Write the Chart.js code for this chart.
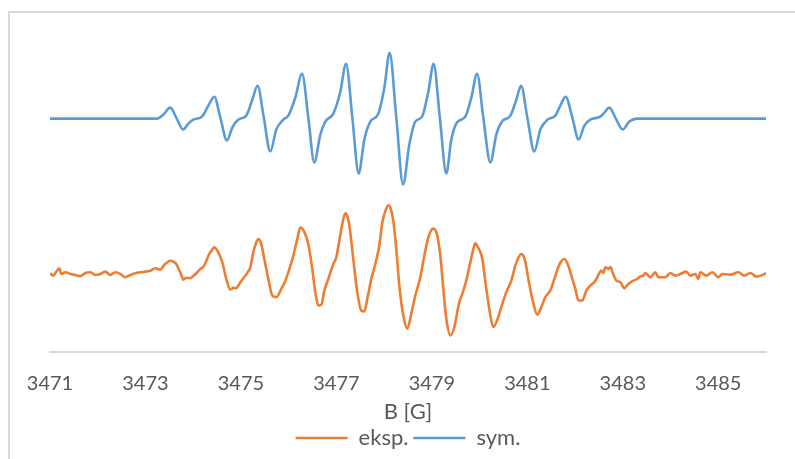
<!DOCTYPE html>
<html><head><meta charset="utf-8">
<script src="https://cdn.jsdelivr.net/npm/chart.js@4.4.0/dist/chart.umd.min.js"></script>
<style>html,body{margin:0;padding:0;background:#fff;}</style>
</head><body>
<canvas id="c" width="795" height="459"></canvas>
<script>
// ---- data ----
const tickValues = [3471, 3473, 3475, 3477, 3479, 3481, 3483, 3485];
const seriesNames = ['eksp.', 'sym.'];

const symB = [
 3471.000, 3473.248, 3473.374, 3473.520, 3473.646, 3473.787, 3473.898, 3474.002, 3474.185,
 3474.317, 3474.442, 3474.568, 3474.708, 3474.819, 3474.945, 3475.113,
 3475.238, 3475.349, 3475.479, 3475.616, 3475.741, 3475.888, 3475.993,
 3476.139, 3476.280, 3476.412, 3476.537, 3476.663, 3476.768, 3476.936,
 3477.082, 3477.202, 3477.334, 3477.466, 3477.585, 3477.711, 3477.878,
 3478.004, 3478.115, 3478.255, 3478.396, 3478.528, 3478.653, 3478.794,
 3478.926, 3479.037, 3479.167, 3479.303, 3479.408, 3479.527, 3479.701,
 3479.827, 3479.946, 3480.078, 3480.225, 3480.350, 3480.470, 3480.644,
 3480.770, 3480.868, 3481.000, 3481.147, 3481.272, 3481.425, 3481.587,
 3481.691, 3481.802, 3481.943, 3482.075, 3482.194, 3482.320, 3482.529,
 3482.613, 3482.718, 3482.854, 3482.997, 3483.137, 3483.298, 3486.000
];
const symI = [
 2.34, 2.34, 2.38, 2.45, 2.35, 2.23, 2.29, 2.33, 2.36,
 2.47, 2.56, 2.35, 2.12, 2.25, 2.33, 2.37,
 2.53, 2.67, 2.35, 2.01, 2.23, 2.33, 2.37,
 2.55, 2.79, 2.35, 1.90, 2.18, 2.31, 2.39,
 2.61, 2.89, 2.35, 1.79, 2.13, 2.31, 2.39,
 2.65, 3.00, 2.35, 1.68, 2.08, 2.31, 2.36,
 2.61, 2.89, 2.35, 1.79, 2.13, 2.30, 2.36,
 2.55, 2.79, 2.35, 1.90, 2.18, 2.31, 2.37,
 2.53, 2.67, 2.35, 2.01, 2.23, 2.33, 2.37,
 2.47, 2.56, 2.35, 2.13, 2.27, 2.33, 2.36,
 2.40, 2.45, 2.34, 2.23, 2.31, 2.34, 2.34
];

const ekspB = [
 3471.000, 3471.069, 3471.132, 3471.195, 3471.237, 3471.321, 3471.425, 3471.530, 3471.635, 3471.740,
 3471.844, 3471.949, 3472.054, 3472.159, 3472.263, 3472.368, 3472.473, 3472.578, 3472.682, 3472.787,
 3472.892, 3472.997, 3473.101, 3473.206, 3473.311, 3473.395, 3473.458, 3473.520, 3473.583, 3473.646,
 3473.688, 3473.751, 3473.793, 3473.856, 3473.939, 3474.002, 3474.086, 3474.149, 3474.212, 3474.275,
 3474.317, 3474.379, 3474.442, 3474.484, 3474.526, 3474.610, 3474.694, 3474.777, 3474.840, 3474.903,
 3474.966, 3475.050, 3475.134, 3475.196, 3475.259, 3475.301, 3475.364, 3475.427, 3475.490, 3475.574,
 3475.657, 3475.741, 3475.846, 3475.930, 3475.993, 3476.056, 3476.097, 3476.181, 3476.244, 3476.328,
 3476.412, 3476.495, 3476.558, 3476.621, 3476.684, 3476.747, 3476.831, 3476.936, 3476.998, 3477.061,
 3477.145, 3477.187, 3477.229, 3477.271, 3477.354, 3477.438, 3477.522, 3477.585, 3477.648, 3477.731,
 3477.815, 3477.899, 3477.962, 3478.025, 3478.088, 3478.130, 3478.193, 3478.255, 3478.318, 3478.402,
 3478.486, 3478.569, 3478.653, 3478.758, 3478.842, 3478.926, 3478.989, 3479.031, 3479.072, 3479.114,
 3479.177, 3479.240, 3479.303, 3479.387, 3479.471, 3479.533, 3479.575, 3479.638, 3479.722, 3479.806,
 3479.869, 3479.911, 3479.952, 3480.015, 3480.057, 3480.141, 3480.225, 3480.288, 3480.392, 3480.476,
 3480.560, 3480.665, 3480.749, 3480.811, 3480.874, 3480.937, 3480.979, 3481.021, 3481.105, 3481.210,
 3481.293, 3481.377, 3481.482, 3481.566, 3481.649, 3481.712, 3481.775, 3481.859, 3481.943, 3482.006,
 3482.069, 3482.152, 3482.236, 3482.320, 3482.404, 3482.466, 3482.550, 3482.592, 3482.634, 3482.697,
 3482.739, 3482.781, 3482.865, 3482.948, 3483.032, 3483.116, 3483.221, 3483.304, 3483.367, 3483.430,
 3483.472, 3483.577, 3483.682, 3483.745, 3483.891, 3483.996, 3484.101, 3484.205, 3484.331, 3484.415,
 3484.520, 3484.583, 3484.625, 3484.750, 3484.876, 3485.002, 3485.085, 3485.253, 3485.421, 3485.546,
 3485.672, 3485.798, 3485.923, 3486.000
];
const ekspI = [
 0.787, 0.763, 0.803, 0.837, 0.780, 0.797, 0.780, 0.770, 0.757, 0.790,
 0.797, 0.770, 0.780, 0.803, 0.770, 0.797, 0.780, 0.747, 0.770, 0.787,
 0.797, 0.803, 0.813, 0.837, 0.823, 0.870, 0.897, 0.913, 0.903, 0.880,
 0.837, 0.770, 0.723, 0.740, 0.737, 0.760, 0.797, 0.830, 0.853, 0.910,
 0.963, 1.010, 1.047, 1.030, 0.997, 0.897, 0.730, 0.623, 0.640, 0.637,
 0.680, 0.737, 0.790, 0.847, 0.997, 1.070, 1.130, 1.080, 0.930, 0.730,
 0.563, 0.547, 0.630, 0.710, 0.797, 0.890, 0.963, 1.130, 1.247, 1.203,
 1.080, 0.830, 0.597, 0.463, 0.470, 0.613, 0.730, 0.880, 0.947, 1.113,
 1.330, 1.390, 1.360, 1.270, 0.930, 0.597, 0.413, 0.403, 0.530, 0.730,
 0.880, 1.063, 1.297, 1.410, 1.470, 1.447, 1.313, 1.030, 0.663, 0.363,
 0.230, 0.380, 0.563, 0.747, 0.963, 1.147, 1.220, 1.237, 1.220, 1.163,
 0.963, 0.630, 0.330, 0.163, 0.247, 0.400, 0.497, 0.580, 0.713, 0.897,
 1.030, 1.087, 1.060, 1.000, 0.930, 0.630, 0.363, 0.247, 0.347, 0.480,
 0.597, 0.713, 0.863, 0.940, 0.980, 0.940, 0.850, 0.730, 0.530, 0.370,
 0.447, 0.547, 0.613, 0.730, 0.847, 0.910, 0.930, 0.863, 0.730, 0.630,
 0.513, 0.513, 0.613, 0.663, 0.697, 0.747, 0.813, 0.790, 0.847, 0.830,
 0.850, 0.803, 0.713, 0.697, 0.637, 0.680, 0.713, 0.730, 0.755, 0.763,
 0.790, 0.747, 0.797, 0.747, 0.747, 0.790, 0.763, 0.780, 0.803, 0.763,
 0.780, 0.730, 0.797, 0.763, 0.797, 0.747, 0.780, 0.773, 0.797, 0.763,
 0.790, 0.753, 0.770, 0.787
];

// ---- chart ----
const FONT = "Lato, 'Open Sans', sans-serif";
const TEXT = '#595959';

const framePlugin = {
  id: 'frame',
  beforeDraw(chart) {
    const ctx = chart.ctx;
    ctx.save();
    ctx.fillStyle = '#ffffff';
    ctx.fillRect(0, 0, chart.width, chart.height);
    ctx.strokeStyle = '#d9d9d9';
    ctx.lineWidth = 2;
    ctx.strokeRect(9, 12, 820, 480);
    ctx.restore();
  }
};

function toPoints(xs, ys) { return xs.map((x, i) => ({ x: x, y: ys[i] })); }

new Chart(document.getElementById('c'), {
  type: 'line',
  data: {
    datasets: [
      { label: seriesNames[0], data: toPoints(ekspB, ekspI), borderColor: '#ED7D31', backgroundColor: '#ED7D31',
        borderWidth: 2.6, pointRadius: 0, cubicInterpolationMode: 'monotone', fill: false },
      { label: seriesNames[1], data: toPoints(symB, symI), borderColor: '#5B9BD5', backgroundColor: '#5B9BD5',
        borderWidth: 2.6, pointRadius: 0, cubicInterpolationMode: 'monotone', fill: false }
    ]
  },
  options: {
    responsive: false,
    animation: false,
    events: [],
    layout: { padding: { left: 50, right: 29, top: 30, bottom: 0 } },
    scales: {
      x: {
        type: 'linear', min: 3471, max: 3486,
        afterBuildTicks: (s) => { s.ticks = tickValues.map(v => ({ value: v })); },
        grid: { display: false, drawTicks: false },
        border: { display: true, color: '#d9d9d9', width: 2 },
        ticks: { color: TEXT, font: { family: FONT, size: 20 }, padding: 20, autoSkip: false, maxRotation: 0,
                 callback: (v) => String(v) },
        title: { display: true, text: 'B [G]', color: TEXT, font: { family: FONT, size: 22 }, padding: { top: -17, bottom: -3 } }
      },
      y: { display: false, min: 0, max: 3.23 }
    },
    plugins: {
      legend: { position: 'bottom',
        labels: { boxWidth: 52, boxHeight: 0, color: TEXT, font: { family: FONT, size: 22 }, padding: 5 } },
      tooltip: { enabled: false }
    }
  },
  plugins: [framePlugin]
});
</script>
</body></html>
